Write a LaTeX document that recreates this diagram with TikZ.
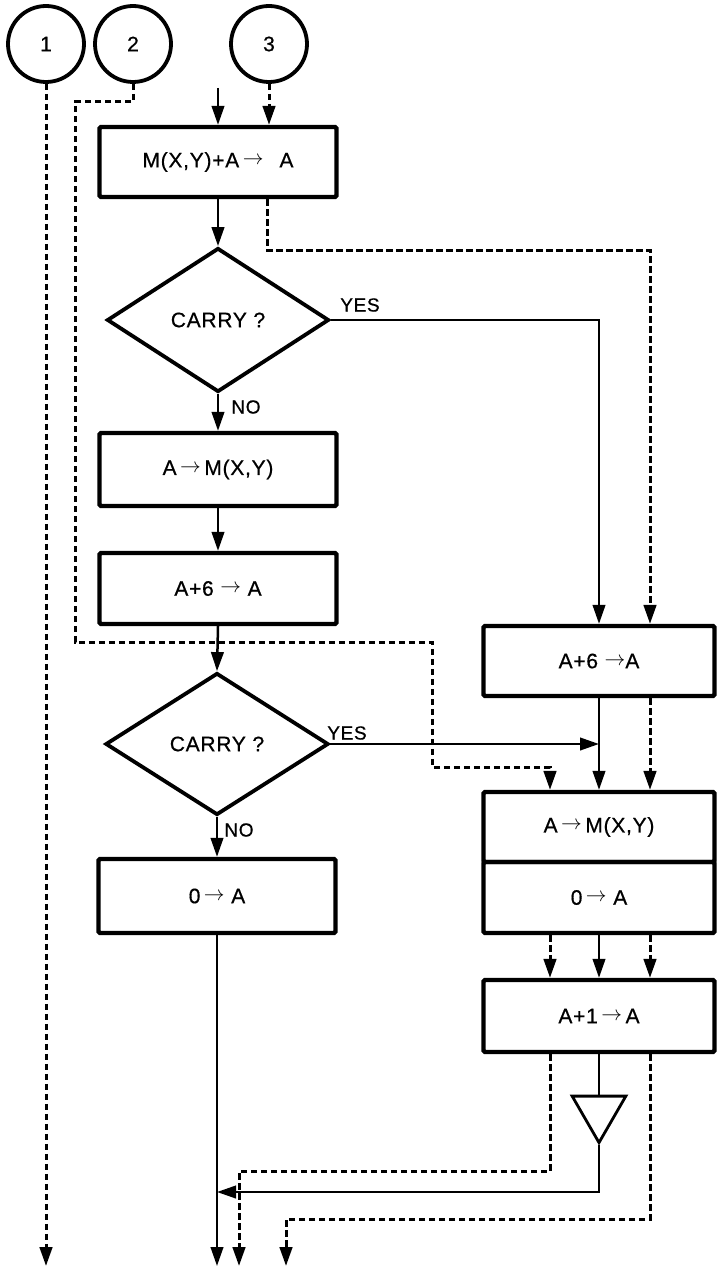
\documentclass[tikz,border=0pt]{standalone}
\usepackage{fontspec}
\setmainfont{Liberation Sans}[LetterSpace=3.5, FakeBold=0.6]
\usetikzlibrary{arrows.meta,shapes.geometric}
\newcommand\tarr{\raisebox{0.25ex}{\fontsize{20}{20}\selectfont$\rightarrow$}}
\tikzset{
  proc/.style={draw, line width=4.3pt, rounded corners=1.5pt, minimum width=237pt, inner sep=0pt, font=\fontsize{21}{25}\selectfont},
  rproc/.style={proc, minimum width=231pt},
  dec/.style={draw, diamond, line width=3.8pt, minimum width=222pt, minimum height=144pt, inner sep=0pt, font=\fontsize{21}{25}\selectfont},
  circ/.style={draw, circle, line width=3.8pt, minimum size=76pt, inner sep=0pt, font=\fontsize{21}{25}\selectfont},
  tri/.style={draw, regular polygon, regular polygon sides=3, shape border rotate=180, line width=2.8pt, minimum size=62pt, inner sep=0pt},
  conn/.style={line width=2.5pt, -{Triangle[length=19pt,width=12.5pt]}},
  dconn/.style={line width=3pt, dash pattern=on 6.5pt off 3.5pt, -{Triangle[length=19pt,width=12.5pt]}},
  plainln/.style={line width=2.5pt},
  lab/.style={inner sep=0pt, font=\fontsize{19}{21}\selectfont}
}
\begin{document}
\begin{tikzpicture}[x=1pt,y=-1pt]
\useasboundingbox (0,0) rectangle (719,1268);
% circles
\node[circ] (c1) at (46,44) {1};
\node[circ] (c2) at (133,44) {2};
\node[circ] (c3) at (269,44) {3};
% left column
\node[proc, minimum height=70pt] (b1) at (218,162) {M(X,Y)+A\,\tarr\hspace{16pt}A};
\node[dec] (d1) at (218,320) {CARRY ?};
\node[proc, minimum height=73pt] (b2) at (218,469.5) {A\,\tarr\,M(X,Y)};
\node[proc, minimum height=71pt] (b3) at (218,588.5) {A+6 \tarr\ A};
\node[dec, minimum width=223pt, minimum height=142pt] (d2) at (217,744) {CARRY ?};
\node[proc, minimum height=74pt] (b4) at (217,896) {0\,\tarr\ A};
% right column
\node[rproc, minimum height=70pt] (r1) at (599,661) {A+6 \tarr A};
\node[rproc, minimum height=70pt] (m1) at (599,827) {A\,\tarr\,M(X,Y)};
\node[rproc, minimum height=71pt] (m2) at (599,897.5) {0\,\tarr\ A};
\node[rproc, minimum height=72pt] (r3) at (599,1016) {A+1\,\tarr\,A};
\node[tri] (tri) at (599,1111.6) {};
% labels
\node[lab] (yes1) at (360,305) {YES};
\node[lab] (no1) at (246,407) {NO};
\node[lab] (yes2) at (347,733) {YES};
\node[lab] (no2) at (239,830) {NO};
% free ends
\coordinate (in1) at (218,88);
\coordinate (merge) at (217,1192);
\coordinate (out0) at (217,1266);
\coordinate (out1) at (239,1266);
\coordinate (out2) at (286,1266);
\coordinate (out3) at (46,1266);
% connectors
\draw[conn] (in1) -- (b1.north);
\draw[dconn] (c3.south) -- (c3.south |- b1.north);
\draw[dconn] (c2.south) -- ++(0,18) -| (75,642) -| (432,767) -| ([xshift=-49pt]m1.north);
\draw[dconn] (c1.south) -- (out3);
\draw[conn] (b1.south) -- (d1.north);
\draw[dconn] ([xshift=49pt]b1.south) -- ++(0,51) -| ([xshift=51pt]r1.north);
\draw[conn] (d1.east) -| (r1.north);
\draw[conn] (d1.south) -- (b2.north);
\draw[conn] (b2.south) -- (b3.north);
\draw[conn] (b3.south) -- (d2.north);
\draw[conn] (d2.east) -- (d2.east -| r1.south);
\draw[conn] (d2.south) -- (b4.north);
\draw[conn] (r1.south) -- (m1.north);
\draw[dconn] ([xshift=51pt]r1.south) -- ([xshift=51pt]m1.north);
\draw[dconn] ([xshift=-49pt]m2.south) -- ([xshift=-49pt]r3.north);
\draw[conn] (m2.south) -- (r3.north);
\draw[dconn] ([xshift=51pt]m2.south) -- ([xshift=51pt]r3.north);
\draw[plainln] (r3.south) -- (tri.north);
\draw[conn] (tri.south) |- (merge);
\draw[conn] (b4.south) -- (out0);
\draw[dconn] ([xshift=-49pt]r3.south) -- ++(0,117) -| (out1);
\draw[dconn] ([xshift=51pt]r3.south) -- ++(0,165) -| (out2);
\end{tikzpicture}
\end{document}
